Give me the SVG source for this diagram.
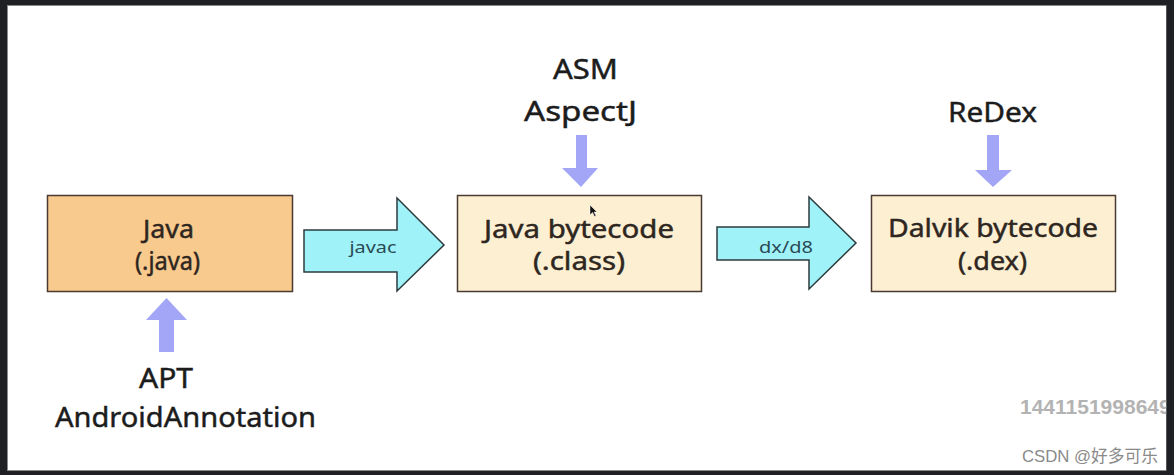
<svg xmlns="http://www.w3.org/2000/svg" width="1174" height="475" viewBox="0 0 1174 475">
<style>
.box{stroke:#4a3a30;stroke-width:1.5}
.t{font-family:"Noto Sans","Liberation Sans",sans-serif;fill:#2e2620;text-anchor:middle}
.bt{font-size:25px;stroke:#2e2620;stroke-width:0.45}
.lb{font-size:27px;fill:#1c1c1c;stroke:#1c1c1c;stroke-width:0.45}
.al{font-size:16px;fill:#2a4a55}
.flow{fill:#9ff3f8;stroke:#2d3b3e;stroke-width:1.5;stroke-linejoin:miter}
.inj{fill:#a3a6f7}
</style>
<rect x="0" y="0" width="1174" height="475" fill="#1f2023"/>
<rect x="7.5" y="5.5" width="1159" height="465" fill="#ffffff" stroke="#8a8a8a" stroke-width="1"/>

<g id="connectors">
  <g id="javac-arrow">
    <polygon class="flow" points="304,230 397,230 397,198 444,245 397,291 397,272 304,272"/>
    <text class="t al" x="373" y="253" textLength="47" lengthAdjust="spacingAndGlyphs">javac</text>
  </g>
  <g id="dx-arrow">
    <polygon class="flow" points="717,227 809,227 809,197 856,243 809,289 809,260 717,260"/>
    <text class="t al" x="786" y="253" textLength="54" lengthAdjust="spacingAndGlyphs">dx/d8</text>
  </g>
  <polygon id="apt-arrow" class="inj" points="159,352 174,352 174,320 187,320 166.5,298 146,320 159,320"/>
  <polygon id="asm-arrow" class="inj" points="576,135 587,135 587,168 598,168 581,187 562,168 576,168"/>
  <polygon id="redex-arrow" class="inj" points="987,135 999,135 999,170 1012,170 993,187 975,170 987,170"/>
</g>

<g id="node-java">
  <rect class="box" x="47.5" y="195.5" width="245" height="96" fill="#f9ca8e"/>
  <text class="t bt" x="168.5" y="238" textLength="51" lengthAdjust="spacingAndGlyphs">Java</text>
  <text class="t bt" x="167.5" y="270" textLength="65" lengthAdjust="spacingAndGlyphs">(.java)</text>
</g>

<g id="node-class">
  <rect class="box" x="457.5" y="195.5" width="244" height="96" fill="#fdefd2"/>
  <text class="t bt" x="579" y="238" textLength="190" lengthAdjust="spacingAndGlyphs">Java bytecode</text>
  <text class="t bt" x="579" y="270" textLength="92" lengthAdjust="spacingAndGlyphs">(.class)</text>
</g>

<g id="node-dex">
  <rect class="box" x="871.5" y="195.5" width="244" height="96" fill="#fdefd2"/>
  <text class="t bt" x="993" y="237" textLength="210" lengthAdjust="spacingAndGlyphs">Dalvik bytecode</text>
  <text class="t bt" x="992.5" y="270" textLength="69" lengthAdjust="spacingAndGlyphs">(.dex)</text>
</g>

<g id="label-asm">
  <text class="t lb" x="585.5" y="79" textLength="65" lengthAdjust="spacingAndGlyphs">ASM</text>
  <text class="t lb" x="580.5" y="121" textLength="113" lengthAdjust="spacingAndGlyphs">AspectJ</text>
</g>

<g id="label-redex">
  <text class="t lb" x="992.5" y="122" textLength="89" lengthAdjust="spacingAndGlyphs">ReDex</text>
</g>

<g id="label-apt">
  <text class="t lb" x="166" y="388" textLength="54" lengthAdjust="spacingAndGlyphs">APT</text>
  <text class="t lb" x="185.5" y="427" textLength="261" lengthAdjust="spacingAndGlyphs">AndroidAnnotation</text>
</g>

<polygon id="cursor" points="590,205 590,215 592.5,212.5 594.5,216.5 596,215.8 594,212 597,212" fill="#111" stroke="#fff" stroke-width="0.5"/>

<text x="1020" y="414" font-family="Liberation Sans, sans-serif" font-weight="bold" font-size="21" fill="#b3b3b3">1441151998649</text>
<text x="1022" y="462" font-family="Liberation Sans, 'Noto Sans CJK SC', sans-serif" font-size="17" fill="#8a8a8a" textLength="136" lengthAdjust="spacingAndGlyphs">CSDN @好多可乐</text>
<rect x="1166.5" y="0" width="8" height="475" fill="#1f2023"/>
</svg>
